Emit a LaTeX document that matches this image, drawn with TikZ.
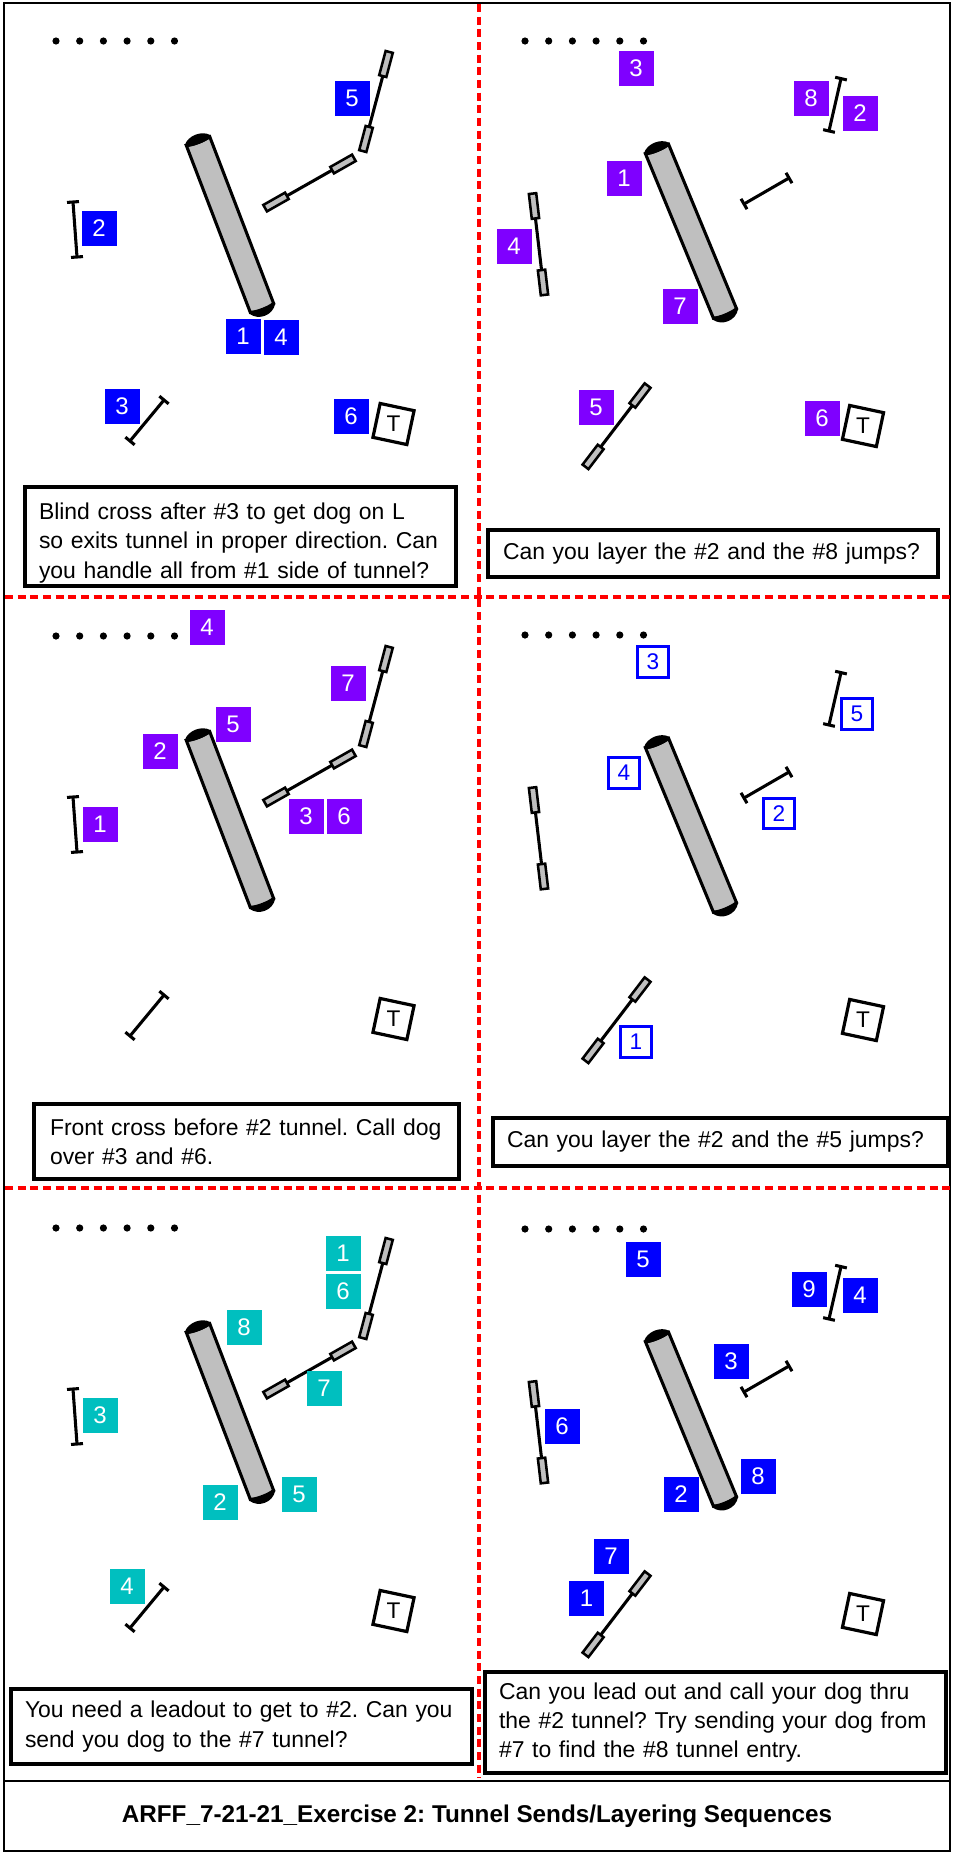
\documentclass[tikz,border=0pt]{standalone}
\usepackage{fontspec}
\setmainfont{Liberation Sans}
\frenchspacing
\definecolor{bluesq}{HTML}{0000FF}
\definecolor{purplesq}{HTML}{7F00FF}
\definecolor{tealsq}{HTML}{00BFBF}
\definecolor{tungrey}{HTML}{BFBFBF}
\definecolor{redline}{HTML}{FF0000}
\tikzset{
  bl/.style={fill=bluesq,text=white,draw=none,minimum size=26.25pt,inner sep=0pt,font=\fontsize{18}{20}\selectfont},
  pu/.style={bl,fill=purplesq},
  te/.style={bl,fill=tealsq},
  ho/.style={fill=white,draw=bluesq,line width=2.2pt,text=bluesq,minimum size=23pt,inner sep=0pt,font=\fontsize{17}{20}\selectfont},
  tkbox/.style={draw=black,line width=2.4pt,fill=white,minimum size=26pt,inner sep=0pt,rotate=-12},
  obj/.style={line width=2.3pt,draw=black},
  wingr/.style={line width=1.9pt,draw=black,fill=tungrey},
  redd/.style={draw=redline,line width=2.5pt,dash pattern=on 6pt off 3.5pt},
  frame/.style={draw=black,line width=2.1pt},
  txtb/.style={draw=black,line width=2.7pt,fill=white,rectangle,anchor=north west,outer sep=0pt,align=left,inner ysep=0pt,font=\fontsize{17.2}{22}\selectfont},
  dot/.style={circle,fill=black,inner sep=0pt,minimum size=5.4pt},
}
\newcommand{\localframe}[4]{%
  \pgfmathsetmacro{\myang}{atan2(-(#4-#2),#3-#1)}%
  \pgfmathsetmacro{\mylen}{veclen(#3-#1,#4-#2)}%
}
\newcommand{\tunnelx}[4]{%
  \localframe{#1}{#2}{#3}{#4}%
  \begin{scope}[shift={(#1,#2)},rotate=\myang]
    \draw[obj,fill=tungrey] (0,-12.5) -- (\mylen,-12.5) .. controls ({\mylen+2},-6) and ({\mylen+2},6) .. (\mylen,12.5) -- (0,12.5) .. controls (2,6) and (2,-6) .. cycle;
    \draw[obj,fill=black,line join=round] (0,-12.5) .. controls (-7,-7) and (-7,7) .. (0,12.5) .. controls (2,6) and (2,-6) .. cycle;
    \draw[obj,fill=black,line join=round] (\mylen,-12.5) .. controls ({\mylen+9},-7) and ({\mylen+9},7) .. (\mylen,12.5) .. controls ({\mylen+3},6) and ({\mylen+3},-6) .. cycle;
  \end{scope}}
\newcommand{\wingx}[4]{%
  \localframe{#1}{#2}{#3}{#4}%
  \begin{scope}[shift={(#1,#2)},rotate=\myang]
    \draw[obj] (0,0) -- (\mylen,0);
    \draw[wingr] (-12.5,-3.7) rectangle (12.5,3.7);
    \draw[wingr] ({\mylen-12.5},-3.7) rectangle ({\mylen+12.5},3.7);
  \end{scope}}
\newcommand{\jumpx}[4]{%
  \localframe{#1}{#2}{#3}{#4}%
  \begin{scope}[shift={(#1,#2)},rotate=\myang]
    \draw[obj] (0,0) -- (\mylen,0);
    \draw[obj] (0,-6) -- (0,6);
    \draw[obj] (\mylen,-6) -- (\mylen,6);
  \end{scope}}
\newcommand{\dotsrow}[1]{%
  \foreach \dx in {0,1,2,3,4,5} {\node[dot] at ({#1+\dx*23.7},41) {};}}
\newcommand{\courseL}{%
  \dotsrow{56}
  \tunnelx{198}{141}{262}{308}
  \wingx{386}{64}{366}{139}
  \wingx{276}{202}{343}{164}
  \jumpx{73}{202}{77}{257}
  \jumpx{164}{400}{130}{441}
  \node[tkbox] (tk) at (393.5,424) {};
  \node at (tk) {\fontsize{17}{20}\selectfont T};}
\newcommand{\courseR}{%
  \dotsrow{525}
  \tunnelx{657}{149}{725}{313.5}
  \wingx{534}{206}{543}{282.5}
  \wingx{640}{395.5}{593}{457}
  \jumpx{841}{78.6}{829}{131}
  \jumpx{789}{178}{744}{204}
  \node[tkbox] (tk) at (863,426) {};
  \node at (tk) {\fontsize{17}{20}\selectfont T};}
\newcommand{\txtbox}[7]{%
  \pgfmathsetmacro{\bw}{(#4-#2)*0.75}%
  \pgfmathsetmacro{\bh}{(#5-#3)*0.75}%
  \pgfmathsetmacro{\bi}{#7*0.75}%
  \pgfmathsetmacro{\bt}{(#4-#2-2*#7)*0.75}%
  \node[txtb,inner xsep=\bi pt,text width=\bt pt,minimum height=\bh pt] (#1) at (#2,#3) {#6};}
\begin{document}
\begin{tikzpicture}[x=0.75pt,y=-0.75pt]
\useasboundingbox (0,0) rectangle (953,1853);
% frame
\coordinate (tl) at (4,3); \coordinate (br) at (950,1851);
\draw[frame] (tl) rectangle (br);
\coordinate (tw) at (4,1781); \coordinate (te) at (950,1781);
\draw[frame] (tw) -- (te);
% red dashed
\coordinate (v1) at (479,4); \coordinate (v2) at (479,1778);
\draw[redd] (v1) -- (v2);
\coordinate (h1a) at (5,597); \coordinate (h1b) at (950,597);
\draw[redd] (h1a) -- (h1b);
\coordinate (h2a) at (5,1188); \coordinate (h2b) at (950,1188);
\draw[redd] (h2a) -- (h2b);
% courses
\begin{scope}\courseL\end{scope}
\begin{scope}[shift={(0,595)}]\courseL\end{scope}
\begin{scope}[shift={(0,1187)}]\courseL\end{scope}
\begin{scope}\courseR\end{scope}
\begin{scope}[shift={(0,594)}]\courseR\end{scope}
\begin{scope}[shift={(0,1188)}]\courseR\end{scope}
% panel A
\foreach \n/\x/\y in {5/352/98,2/99/228,1/243/336,4/281/337,3/122/406,6/351/416}
  \node[bl] (a\n) at (\x,\y) {\n};
% panel B
\foreach \n/\x/\y in {3/636/68,8/811/98,2/860/113,1/624/178,4/514/246,7/680/306,5/596/407,6/822/418.5}
  \node[pu] (b\n) at (\x,\y) {\n};
% panel C
\foreach \n/\x/\y in {4/207/627,5/233/724,2/160/751,7/348/683,1/100/824,3/306/816,6/344/816}
  \node[pu] (c\n) at (\x,\y) {\n};
% panel D
\foreach \n/\x/\y in {3/653/662,5/857/714,4/624/773,2/779/813.5,1/636/1042}
  \node[ho] (d\n) at (\x,\y) {\n};
% panel E
\foreach \n/\x/\y in {1/343/1253,6/343/1291,8/244/1327,7/324/1388,3/100/1415,2/220/1502,5/299/1494.5,4/127/1586}
  \node[te] (e\n) at (\x,\y) {\n};
% panel F
\foreach \n/\x/\y in {5/643/1259,9/809/1289,4/860/1295,3/731/1361,6/562/1426,8/758/1476,2/681/1494.5,7/611/1556,1/586.5/1598.6}
  \node[bl] (f\n) at (\x,\y) {\n};
% text boxes
\txtbox{ta}{25}{487}{456}{586}{\rule{0pt}{22pt}Blind cross after \#3 to get dog on L\\\mbox{so exits tunnel in proper direction. Can}\\you handle all from \#1 side of tunnel?}{14}
\txtbox{tb}{488}{530}{938}{577}{\mbox{Can you layer the \#2 and the \#8 jumps?}}{15}
\txtbox{tc}{34}{1104}{459}{1179}{\mbox{Front cross before \#2 tunnel. Call dog}\\over \#3 and \#6.}{16}
\txtbox{td}{493}{1118}{948}{1166}{\mbox{Can you layer the \#2 and the \#5 jumps?}}{14}
\txtbox{te}{11}{1689}{472}{1764}{\mbox{You need a leadout to get to \#2. Can you}\\send you dog to the \#7 tunnel?}{14}
\txtbox{tf}{485}{1672}{946}{1773}{\mbox{Can you lead out and call your dog thru}\\\mbox{the \#2 tunnel? Try sending your dog from}\\\#7 to find the \#8 tunnel entry.}{14}
\node[font=\fontsize{18.2}{20}\selectfont\bfseries] (title) at (477,1816) {ARFF\_7-21-21\_Exercise 2: Tunnel Sends/Layering Sequences};
\end{tikzpicture}
\end{document}
